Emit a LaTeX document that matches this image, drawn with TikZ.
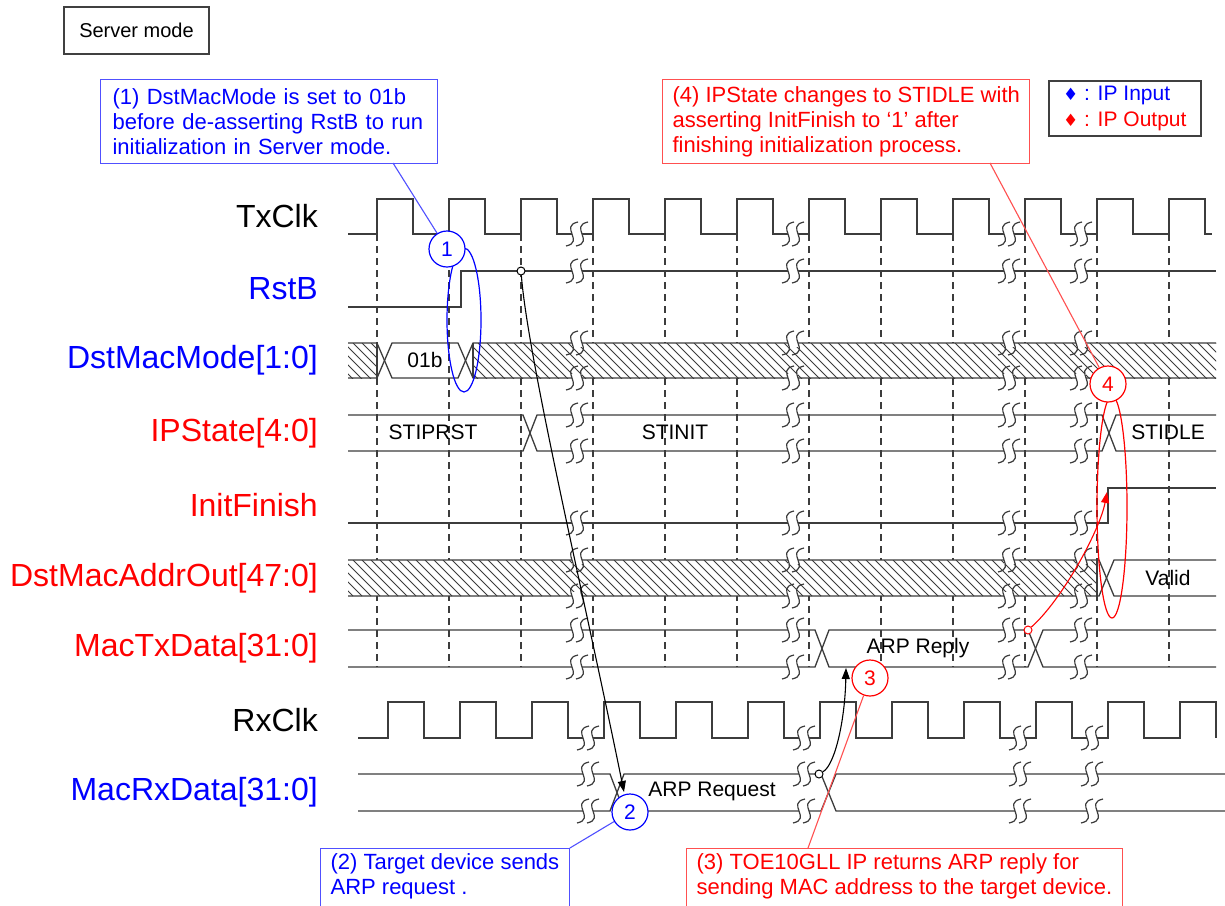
\documentclass[tikz,border=0pt]{standalone}
\usepackage{fontspec}
\setmainfont{Liberation Sans}
\newfontfamily\symfont{DejaVu Sans}
\usepackage{tikz}
\usetikzlibrary{arrows.meta,positioning,calc}
\usepackage{xcolor}
\definecolor{ipblue}{RGB}{0,0,255}
\definecolor{ipred}{RGB}{255,0,0}
\definecolor{noteblue}{RGB}{80,80,255}
\definecolor{notered}{RGB}{255,80,80}
\definecolor{wavegray}{RGB}{60,60,60}

% break mark on a line: x, y
\newcommand{\wavebreak}[2]{%
  \fill[white] (#1-5,#2-4) rectangle (#1+5,#2+4);
  \foreach \d in {-5,5}
    \draw[wavegray, line width=1.2pt] (#1+\d+6,#2-12) .. controls (#1+\d-13,#2-8) and (#1+\d+13,#2+8) .. (#1+\d-6,#2+12);}
% don't-care band: x1, x2, ytop, ybot
\newcommand{\hatchbox}[4]{%
  \fill[white] (#1,#3) rectangle (#2,#4);
  \begin{scope}
    \clip (#1,#3) rectangle (#2,#4);
    \foreach \h in {0,9,...,900} \draw[wavegray, line width=0.9pt] (#1-40+\h,#3) -- ++(36,36);
  \end{scope}}

\begin{document}
\begin{tikzpicture}[x=1pt, y=-1pt,
    wave/.style={line width=1.3pt, wavegray},
    grid/.style={line width=1.1pt, wavegray, dash pattern=on 7pt off 5pt},
    sig/.style={anchor=east, inner sep=0pt, font=\fontsize{32}{36}\selectfont},
    val/.style={font=\fontsize{21}{24}\selectfont},
    note/.style={draw, fill=white, line width=1.2pt, align=left, anchor=north west,
                 inner xsep=10pt, inner ysep=5pt, font=\fontsize{22}{25}\selectfont},
    callout/.style={circle, draw, fill=white, line width=1.2pt, minimum size=36pt,
                    inner sep=0pt, font=\fontsize{21}{24}\selectfont},
    dot/.style={circle, draw, fill=white, line width=1pt, minimum size=8pt, inner sep=0pt},
    tip/.style={-{Triangle[length=11pt,width=8pt]}, line width=1.1pt}]
  \fill[white] (0,0) rectangle (1225,905);
  \useasboundingbox (0,0) rectangle (1225,905);

  % Signal names
  \node[sig] (txclk) at (318,216) {TxClk};
  \node[sig, text=ipblue] (rstb) at (318,289) {RstB};
  \node[sig, text=ipblue] (dstmode) at (318,360) {DstMacMode[1:0]};
  \node[sig, text=ipred] (ipstate) at (318,433) {IPState[4:0]};
  \node[sig, text=ipred] (initfin) at (318,505) {InitFinish};
  \node[sig, text=ipred] (dstaddr) at (318,578) {DstMacAddrOut[47:0]};
  \node[sig, text=ipred] (txdata) at (318,648) {MacTxData[31:0]};
  \node[sig] (rxclk) at (318,720) {RxClk};
  \node[sig, text=ipblue] (rxdata) at (318,792) {MacRxData[31:0]};

  % Clock edges
  \foreach \k in {0,...,11}
    \draw[grid] (377+72*\k,234) -- (377+72*\k,667);

  % Don't-care bands
  \hatchbox{348}{377}{343}{378}
  \hatchbox{473}{1216}{343}{378}
  \hatchbox{348}{1097}{560}{596}

  % TxClk
  \draw[wave] (348,234) foreach \k in {0,...,11} {
    -- (377+72*\k,234) -- (377+72*\k,199) -- (413+72*\k,199) -- (413+72*\k,234) } -- (1212,234);
  % RstB
  \draw[wave] (348,307) -- (461,307) -- (461,271) -- (1216,271);
  % DstMacMode
  \draw[wave] (348,343) -- (377,343) -- (392,378) -- (458,378) -- (473,343) -- (1216,343);
  \draw[wave] (348,378) -- (377,378) -- (392,343) -- (458,343) -- (473,378) -- (1216,378);
  \draw[wave] (377,343) -- (377,378) (473,343) -- (473,378);
  \node[val] (v01b) at (425,360) {01b};
  % IPState
  \draw[wave] (348,415) -- (523,415) -- (537,451) -- (1102,451) -- (1116,415) -- (1216,415);
  \draw[wave] (348,451) -- (523,451) -- (537,415) -- (1102,415) -- (1116,451) -- (1216,451);
  \node[val] (vprst) at (433,432) {STIPRST};
  \node[val] (vinit) at (675,432) {STINIT};
  \node[val] (vidle) at (1168,432) {STIDLE};
  % InitFinish
  \draw[wave] (348,523) -- (1108,523) -- (1108,488) -- (1216,488);
  % DstMacAddrOut
  \draw[wave] (348,560) -- (1099,560) -- (1114,596) -- (1216,596);
  \draw[wave] (348,596) -- (1099,596) -- (1114,560) -- (1216,560);
  \draw[wave] (1097,560) -- (1097,596);
  \node[val] (vvalid) at (1168,578) {Valid};
  % MacTxData
  \draw[wave] (348,630) -- (815,630) -- (829,667) -- (1028,667) -- (1043,630) -- (1216,630);
  \draw[wave] (348,667) -- (815,667) -- (829,630) -- (1028,630) -- (1043,667) -- (1216,667);
  \node[val] (vreply) at (918,648) {ARP Reply};
  % RxClk
  \draw[wave] (358,738) foreach \k in {0,...,11} {
    -- (388+72*\k,738) -- (388+72*\k,702) -- (424+72*\k,702) -- (424+72*\k,738) };
  % MacRxData
  \draw[wave] (358,774) -- (610,774) -- (624,811) -- (821,811) -- (836,774) -- (1225,774);
  \draw[wave] (358,811) -- (610,811) -- (624,774) -- (821,774) -- (836,811) -- (1225,811);
  \node[val] (vreq) at (712,791) {ARP Request};

  % Breaks
  \foreach \x in {577,793,1009,1081}
    \foreach \y in {234,271,343,378,415,451,523,560,596,630,667}
      {\wavebreak{\x}{\y}}
  \foreach \x in {588,804,1020,1092}
    \foreach \y in {738,774,811}
      {\wavebreak{\x}{\y}}

  % Causal arrows
  \node[dot] (m1) at (521,271) {};
  \node[dot] (m2) at (819,774) {};
  \node[dot, draw=ipred] (m3) at (1028,630) {};
  \coordinate (a1) at (624,792);
  \coordinate (a2) at (846,668);
  \coordinate (a3) at (1107,492);
  \draw[tip] (m1) .. controls (528,360) and (585,600) .. (a1);
  \draw[tip] (m2) .. controls (835,765) and (845,720) .. (a2);
  \draw[tip, ipred] (m3) .. controls (1062,600) and (1100,530) .. (a3);

  % Highlights
  \draw[ipblue, line width=1.2pt] (464,320) ellipse [x radius=17, y radius=72];
  \draw[ipred, line width=1.2pt] (1112,507) ellipse [x radius=15, y radius=111];
  \node[callout, draw=ipblue, text=ipblue] (c1) at (447,249) {1};
  \node[callout, draw=ipblue, text=ipblue] (c2) at (630,812) {2};
  \node[callout, draw=ipred, text=ipred] (c3) at (870,678) {3};
  \node[callout, draw=ipred, text=ipred] (c4) at (1108,384) {4};

  % Notes
  \node[draw=black!75, line width=1.5pt, minimum width=145pt, minimum height=47pt,
        font=\fontsize{20}{24}\selectfont] (mode) at (136.5,30.5) {Server mode};
  \node[note, draw=noteblue, text=ipblue, minimum height=84pt, inner xsep=12pt, text width=313pt] (n1) at (100,79)
    {(1) DstMacMode is set to 01b\\before de-asserting RstB to run\\initialization in Server mode.};
  \node[note, draw=notered, text=ipred, minimum height=84pt] (n4) at (662,79)
    {(4) IPState changes to STIDLE with\\asserting InitFinish to ‘1’ after\\finishing initialization process.};
  \node[note, draw=black!75, line width=1.5pt, font=\fontsize{21}{26}\selectfont,
        minimum width=152pt, minimum height=55pt] (legend) at (1048,80)
    {\textcolor{ipblue}{{\symfont\fontsize{17}{26}\selectfont ♦} : IP Input}\\
     \textcolor{ipred}{{\symfont\fontsize{17}{26}\selectfont ♦} : IP Output}};
  \node[note, draw=noteblue, text=ipblue] (n2) at (320,848)
    {(2) Target device sends\\ARP request .\rule[-25pt]{0pt}{0pt}};
  \node[note, draw=notered, text=ipred] (n3) at (686,848)
    {(3) TOE10GLL IP returns ARP reply for\\sending MAC address to the target device.\rule[-25pt]{0pt}{0pt}};

  % Callout links
  \coordinate (p1) at (393,163);
  \coordinate (p3) at (808,848);
  \coordinate (p4) at (990,163);
  \draw[noteblue, line width=1.1pt] (p1) -- (c1);
  \draw[noteblue, line width=1.1pt] (c2) -- (n2.north east);
  \draw[notered, line width=1.1pt] (c3) -- (p3);
  \draw[notered, line width=1.1pt] (p4) -- (c4);
\end{tikzpicture}
\end{document}
